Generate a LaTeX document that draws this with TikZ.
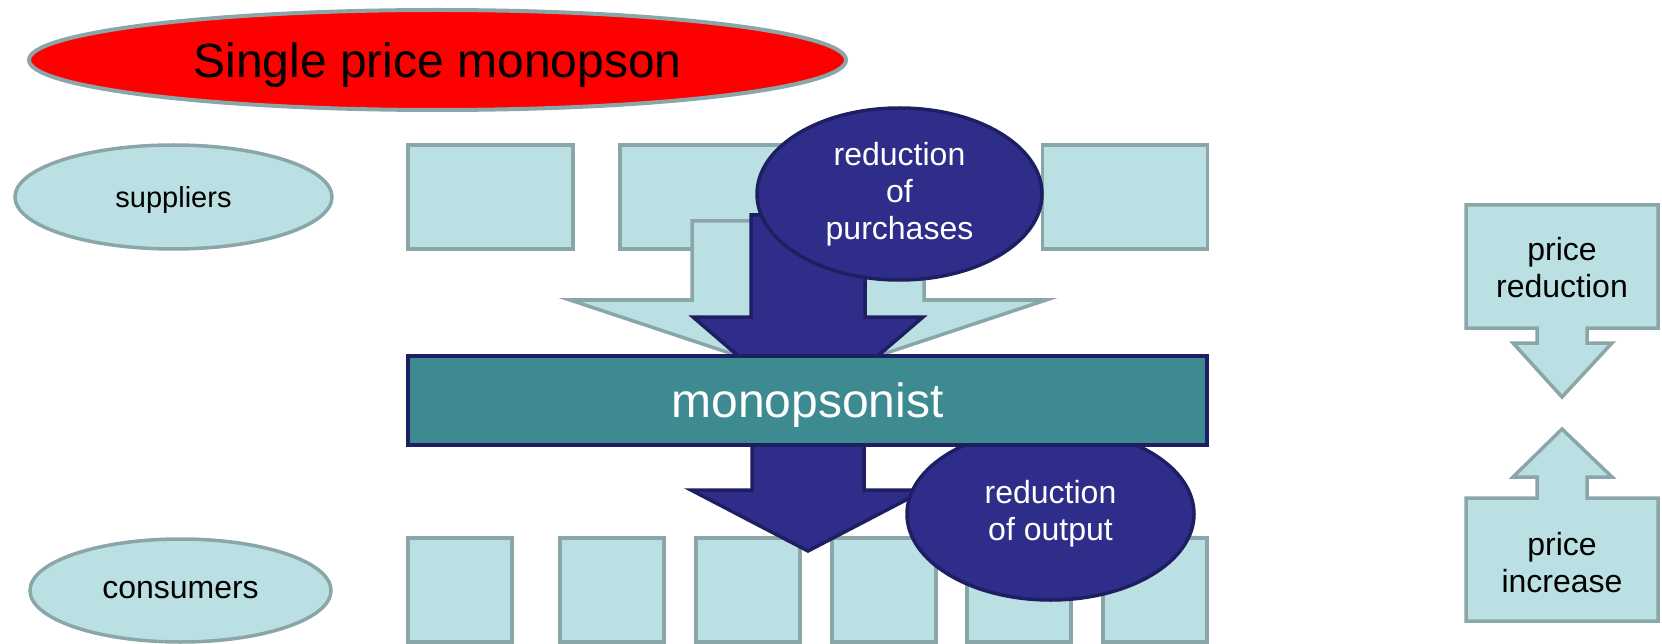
\documentclass[tikz,border=0pt]{standalone}
\usepackage{fontspec}
\setmainfont{Liberation Sans}
\usetikzlibrary{shapes.geometric}
\definecolor{lightfill}{HTML}{BBE0E3}
\definecolor{lightline}{HTML}{8AA6A8}
\definecolor{navyfill}{HTML}{2E2E8A}
\definecolor{navyline}{HTML}{1E1E62}
\definecolor{tealfill}{HTML}{3D8B91}
\definecolor{titlered}{HTML}{FF0000}
\begin{document}
\begin{tikzpicture}[x=1pt,y=-1pt,
  lightbox/.style={draw=lightline,fill=lightfill,line width=3.5pt,inner sep=0pt},
  lightshape/.style={draw=lightline,fill=lightfill,line width=3.5pt},
  darkshape/.style={draw=navyline,fill=navyfill,line width=3.5pt},
  darkoval/.style={ellipse,draw=navyline,fill=navyfill,line width=3.5pt,inner sep=0pt,
    text=white,align=center,font=\fontsize{32}{37}\selectfont},
  lightoval/.style={ellipse,draw=lightline,fill=lightfill,line width=3.5pt,inner sep=0pt},
  plaintext/.style={inner sep=0pt,align=center,font=\fontsize{32}{37}\selectfont}
]
\useasboundingbox (0,0) rectangle (1662,644);

% title
\node[ellipse,draw=lightline,fill=titlered,line width=4pt,inner sep=0pt,text depth=0pt,
  minimum width=817pt,minimum height=100pt,font=\fontsize{48}{56}\selectfont]
  (title) at (437.5,60) {Single price monopson};

% side ovals
\node[lightoval,minimum width=317pt,minimum height=104pt,text depth=0pt,
  font=\fontsize{29}{34}\selectfont]
  (suppliers) at (173.5,197) {suppliers};
\node[lightoval,minimum width=301pt,minimum height=103pt,font=\fontsize{32}{37}\selectfont]
  (consumers) at (180.5,590.5) {consumers};

% top row of boxes
\foreach \i/\cx in {1/490.5,2/702.5,3/914.5,4/1125} {
  \node[lightbox,minimum width=165pt,minimum height=104pt] (s\i) at (\cx,197) {};
}
% bottom row of boxes
\foreach \i/\cx in {1/460,2/612,3/748,4/884,5/1019,6/1155} {
  \node[lightbox,minimum width=104pt,minimum height=104pt] (c\i) at (\cx,590) {};
}

% light wide arrow
\draw[lightshape] (692,221) -- (924,221) -- (924,300) -- (1046,300) -- (808,379)
  -- (570,300) -- (692,300) -- cycle;
% upper dark arrow
\draw[darkshape] (751,215) -- (865,215) -- (865,317) -- (923,317) -- (808,416)
  -- (693,317) -- (751,317) -- cycle;
% lower dark arrow
\draw[darkshape] (752,430) -- (864,430) -- (864,490) -- (925,490) -- (808,551)
  -- (691,490) -- (752,490) -- cycle;

% reduction of output
\node[darkoval,minimum width=287pt,minimum height=172pt] (output) at (1050.5,514)
  {reduction\\of output};

% monopsonist bar
\node[draw=navyline,fill=tealfill,line width=3.5pt,inner sep=0pt,text depth=0pt,
  minimum width=799pt,minimum height=89pt,text=white,font=\fontsize{48}{56}\selectfont]
  (mono) at (807.5,400.5) {monopsonist};

% reduction of purchases
\node[darkoval,minimum width=285pt,minimum height=172pt] (purch) at (899.5,194)
  {reduction\\of\\purchases};

% right callouts
\draw[lightshape] (1466,205) -- (1658,205) -- (1658,328) -- (1587,328) -- (1587,343)
  -- (1612,343) -- (1562,397) -- (1513,343) -- (1537,343) -- (1537,328) -- (1466,328) -- cycle;
\node[plaintext] (pred) at (1562,268) {price\\reduction};
\draw[lightshape] (1562,429) -- (1612,477) -- (1587,477) -- (1587,498) -- (1658,498)
  -- (1658,621) -- (1466,621) -- (1466,498) -- (1537,498) -- (1537,477) -- (1513,477) -- cycle;
\node[plaintext] (pinc) at (1562,563) {price\\increase};
\end{tikzpicture}
\end{document}
